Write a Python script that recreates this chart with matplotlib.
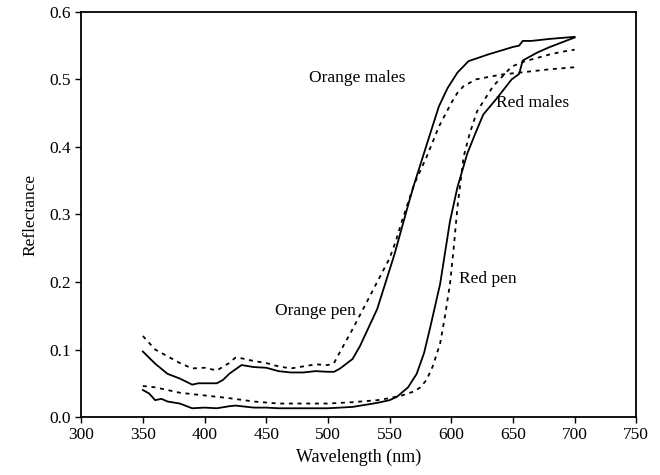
import numpy as np
import matplotlib
matplotlib.use('Agg')
import matplotlib.pyplot as plt

plt.rcParams['font.family'] = ['Liberation Serif', 'DejaVu Serif']

# Orange males (solid)
om_wl = [350, 355, 360, 370, 380, 390, 395, 400, 410, 415, 420, 430, 440, 450, 460, 470, 480,
         490, 500, 505, 510, 520, 526, 540, 554, 566, 570, 583, 590, 597, 605, 614, 630,
         650, 655, 658, 665, 680, 700]
om_r = [0.097, 0.088, 0.079, 0.064, 0.057, 0.048, 0.050, 0.050, 0.050, 0.055, 0.064, 0.077, 0.074,
        0.073, 0.068, 0.066, 0.066, 0.068, 0.067, 0.067, 0.072, 0.086, 0.105, 0.160, 0.241,
        0.320, 0.345, 0.420, 0.460, 0.487, 0.510, 0.527, 0.537, 0.548, 0.550, 0.557, 0.557, 0.560,
        0.563]

# Orange pen (dotted)
op_wl = [350, 360, 370, 380, 390, 400, 410, 420, 425, 430, 440, 450, 460, 470, 480, 490, 500,
         505, 510, 520, 530, 540, 550, 555, 560, 570, 580, 590, 600, 605, 610, 620, 640, 660,
         680, 700]
op_r = [0.120, 0.100, 0.090, 0.080, 0.072, 0.073, 0.069, 0.080, 0.088, 0.087, 0.083, 0.080, 0.075,
        0.072, 0.075, 0.078, 0.077, 0.080, 0.097, 0.130, 0.165, 0.200, 0.235, 0.260, 0.290, 0.345,
        0.385, 0.430, 0.465, 0.480, 0.490, 0.500, 0.507, 0.511, 0.515, 0.518]

# Red males (solid)
rm_wl = [350, 355, 360, 365, 370, 380, 390, 400, 410, 420, 425, 430, 440, 450, 460, 480, 500,
         520, 530, 540, 550, 556, 565, 572, 578, 583, 591, 599, 605, 613, 620, 626, 637, 649,
         655, 658, 662, 670, 680, 690, 700]
rm_r = [0.040, 0.035, 0.025, 0.027, 0.023, 0.020, 0.013, 0.014, 0.013, 0.016, 0.017, 0.016, 0.014,
        0.014, 0.013, 0.013, 0.013, 0.015, 0.018, 0.021, 0.025, 0.030, 0.044, 0.064, 0.095, 0.133,
        0.197, 0.290, 0.340, 0.390, 0.422, 0.448, 0.472, 0.500, 0.508, 0.528, 0.532, 0.540, 0.548,
        0.555, 0.562]

# Red pen (dotted)
rp_wl = [350, 360, 370, 380, 400, 420, 440, 460, 480, 500, 520, 540, 550, 560, 570, 575, 580,
         585, 591, 595, 599, 602, 605, 610, 615, 621, 634, 649, 660, 670, 680, 690, 700]
rp_r = [0.046, 0.044, 0.040, 0.036, 0.032, 0.028, 0.023, 0.020, 0.020, 0.020, 0.022, 0.025, 0.028,
        0.032, 0.038, 0.044, 0.055, 0.075, 0.109, 0.150, 0.197, 0.250, 0.310, 0.385, 0.420, 0.453,
        0.490, 0.519, 0.527, 0.532, 0.537, 0.541, 0.544]

fig = plt.figure(figsize=(6.6, 4.75), dpi=100)
ax = fig.add_axes([0.123, 0.122, 0.841, 0.853])

dot = (0, (2.2, 2.6))
ax.plot(om_wl, om_r, color='black', lw=1.3)
ax.plot(rm_wl, rm_r, color='black', lw=1.3)
ax.plot(op_wl, op_r, color='black', lw=1.3, linestyle=dot)
ax.plot(rp_wl, rp_r, color='black', lw=1.3, linestyle=dot)

fs = 12.5
ax.text(485, 0.502, 'Orange males', fontsize=fs, va='center')
ax.text(636, 0.465, 'Red males', fontsize=fs, va='center')
ax.text(457, 0.157, 'Orange pen', fontsize=fs, va='center')
ax.text(606, 0.205, 'Red pen', fontsize=fs, va='center')

ax.set_xlim(300, 750)
ax.set_ylim(0, 0.6)
ax.set_xticks(np.arange(300, 751, 50))
ax.set_yticks(np.arange(0, 0.61, 0.1))
ax.set_yticklabels(['%.1f' % v for v in np.arange(0, 0.61, 0.1)])
ax.tick_params(direction='out', length=4, width=1, labelsize=fs)
for s in ax.spines.values():
    s.set_linewidth(1.3)
ax.set_xlabel('Wavelength (nm)', fontsize=13)
ax.set_ylabel('Reflectance', fontsize=fs, labelpad=8)

fig.savefig('out.png', dpi=100)
